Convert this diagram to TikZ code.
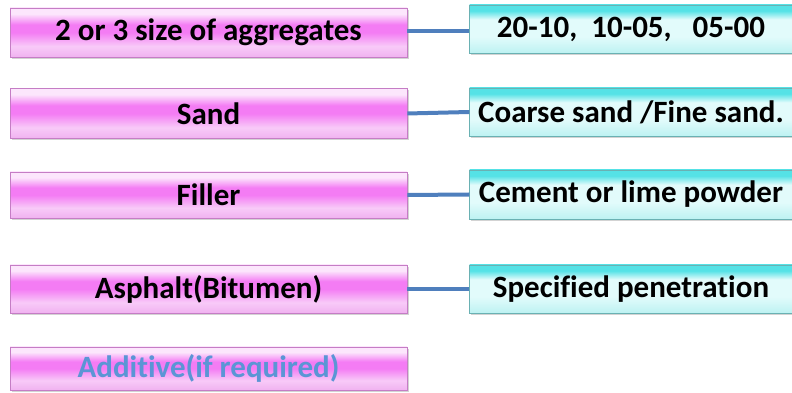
\documentclass[tikz,border=0pt]{standalone}
\usepackage{fontspec}
\setmainfont[Ligatures=NoCommon]{Carlito}
\usetikzlibrary{shadows}

\definecolor{pinktop}{HTML}{FCE6FC}
\definecolor{pinkmid}{HTML}{F47CF4}
\definecolor{pinklow}{HTML}{F8CAF8}
\definecolor{pinkbot}{HTML}{F0B2F0}
\definecolor{cyantop}{HTML}{55E2E6}
\definecolor{cyanlt}{HTML}{E2FBFB}
\definecolor{cyanbot}{HTML}{BDF2F2}
\definecolor{linkblue}{HTML}{4F7FBD}
\definecolor{addblue}{HTML}{5B95D5}

% the bar spans 25bp (bottom edge) to 75bp (top edge) of each shading
\pgfdeclareverticalshading{pinkbar}{100bp}{%
  color(0bp)=(pinkbot); color(25bp)=(pinkbot); color(36bp)=(pinklow);
  color(50bp)=(pinkmid); color(58bp)=(pinkmid); color(69bp)=(pinktop);
  color(100bp)=(pinktop)}
\pgfdeclareverticalshading{cyanbar}{100bp}{%
  color(0bp)=(cyanbot); color(25bp)=(cyanbot); color(42bp)=(cyanlt);
  color(60bp)=(cyanlt); color(69bp)=(cyantop); color(100bp)=(cyantop)}

\tikzset{
  x=1pt, y=1pt,
  barbase/.style={inner sep=0pt, font=\fontsize{31}{33}\selectfont\bfseries,
    drop shadow={shadow xshift=1.5pt, shadow yshift=-2pt, opacity=0.35, fill=gray}},
  matbox/.style={barbase, shading=pinkbar, draw=pinkmid!60!gray, line width=0.6pt,
    minimum width=397pt},
  specbox/.style={barbase, shading=cyanbar, draw=cyantop!50!gray, line width=0.4pt,
    minimum width=323pt},
  link/.style={linkblue, line width=4pt}
}

\begin{document}
\begin{tikzpicture}
\useasboundingbox (0,0) rectangle (792,393);

% materials
\node[matbox, minimum height=49pt] (agg) at (208.5,360.5) {2 or 3 size of aggregates};
\node[matbox, minimum height=50pt] (sand) at (208.5,279.5) {Sand};
\node[matbox, minimum height=46pt] (fill) at (208.5,198) {Filler};
\node[matbox, minimum height=48pt] (asph) at (208.5,104) {Asphalt(Bitumen)};
\node[matbox, minimum height=43pt, text=addblue] (add) at (208.5,24.5) {Additive(if required)};

% specifications
\node[specbox, minimum height=48pt] (aggs) at (631,364) {20-10,\ \ 10-05,\ \ \ 05-00};
\node[specbox, minimum height=48pt] (sands) at (631,281) {Coarse sand /Fine sand.};
\node[specbox, minimum height=49pt] (fills) at (631,198.5) {Cement or lime powder};
\node[specbox, minimum height=48pt] (asphs) at (631,104) {Specified penetration};

% connectors
\draw[link] (agg.east) ++(0,1.5) -- (aggs.west |- 0,362);
\draw[link] (sand.east) -- (sands.west);
\draw[link] (fill.east) -- (fills.west);
\draw[link] (asph.east) -- (asphs.west);
\end{tikzpicture}
\end{document}
